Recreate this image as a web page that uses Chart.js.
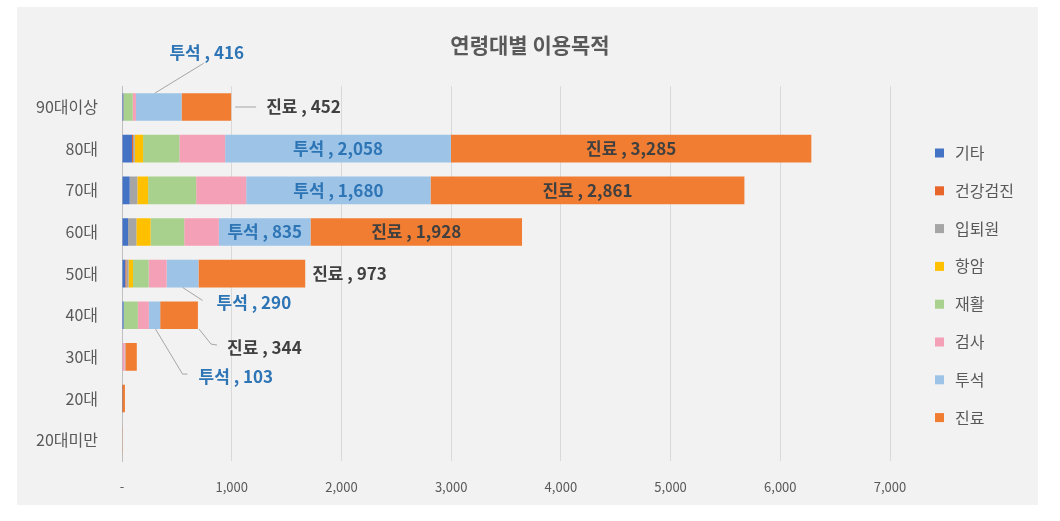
<!DOCTYPE html>
<html lang="ko">
<head>
<meta charset="utf-8">
<title>연령대별 이용목적</title>
<script src="https://cdn.jsdelivr.net/npm/chart.js@4.4.1/dist/chart.umd.min.js"></script>
<style>
  html, body { margin: 0; padding: 0; background: #ffffff; }
  canvas { display: block; }
</style>
</head>
<body>
<canvas id="myChart" width="1060" height="521"></canvas>
<script>
// categories (top to bottom)
const categories = ["90대이상", "80대", "70대", "60대", "50대", "40대", "30대", "20대", "20대미만"];

// series values, one array per purpose (stacked left to right in this order)
const etcValues = [10, 91, 70, 55, 30, 15, 5, 2, 0];           // 기타
const checkupValues = [0, 10, 0, 0, 10, 0, 0, 0, 0];           // 건강검진
const admissionValues = [8, 15, 70, 76, 20, 0, 0, 0, 0];       // 입퇴원
const cancerValues = [0, 76, 98, 130, 40, 0, 0, 0, 0];         // 항암
const rehabValues = [79, 331, 438, 306, 143, 130, 0, 0, 0];    // 재활
const examValues = [30, 417, 456, 316, 164, 100, 20, 0, 0];    // 검사
const dialysisValues = [416, 2058, 1680, 835, 290, 103, 5, 0, 0];     // 투석
const treatmentValues = [452, 3285, 2861, 1928, 973, 344, 105, 25, 3]; // 진료

// x axis tick labels
const xTickLabels = ["-", "1,000", "2,000", "3,000", "4,000", "5,000", "6,000", "7,000"];

document.addEventListener("DOMContentLoaded", function () {
  const ctx = document.getElementById("myChart").getContext("2d");

  const FONT = "'Noto Sans CJK KR', 'Noto Sans', sans-serif";
  Chart.defaults.font.family = FONT;
  Chart.defaults.color = "#595959";

  // series meta: name + colour, same order as the stack
  const series = [
    { label: "기타", data: etcValues, color: "#4472C4" },
    { label: "건강검진", data: checkupValues, color: "#E8652B" },
    { label: "입퇴원", data: admissionValues, color: "#A5A5A5" },
    { label: "항암", data: cancerValues, color: "#FFC000" },
    { label: "재활", data: rehabValues, color: "#A9D18E" },
    { label: "검사", data: examValues, color: "#F4A0B6" },
    { label: "투석", data: dialysisValues, color: "#9DC3E6" },
    { label: "진료", data: treatmentValues, color: "#F07D32" },
  ];

  const DIALYSIS = 6;
  const TREATMENT = 7;
  const blueText = "#2E75B6";
  const darkText = "#404040";

  // which bar segments get a value label and how it is placed
  const labelSpecs = [
    { ds: DIALYSIS, cat: 0, type: "callout", from: [-4, "top"], path: [[45, -30]], text: [48, -41], align: "center", color: blueText },
    { ds: TREATMENT, cat: 0, type: "right", line: true, color: darkText },
    { ds: DIALYSIS, cat: 1, type: "center", color: blueText },
    { ds: TREATMENT, cat: 1, type: "center", color: darkText },
    { ds: DIALYSIS, cat: 2, type: "center", color: blueText },
    { ds: TREATMENT, cat: 2, type: "center", color: darkText },
    { ds: DIALYSIS, cat: 3, type: "center", color: blueText },
    { ds: TREATMENT, cat: 3, type: "center", color: darkText },
    { ds: TREATMENT, cat: 4, type: "right", line: false, color: darkText },
    { ds: DIALYSIS, cat: 4, type: "callout", from: [0, "bottom"], path: [[20, 13]], text: [34, 15], align: "left", color: blueText },
    { ds: TREATMENT, cat: 5, type: "callout", from: [20, "bottom"], path: [[32, 15], [38, 16]], text: [48, 18], align: "left", color: darkText },
    { ds: DIALYSIS, cat: 5, type: "callout", from: [1, "bottom"], path: [[28, 45], [33, 45]], text: [44, 47], align: "left", color: blueText },
  ];

  // grey panel behind the whole chart
  const panelPlugin = {
    id: "panel",
    beforeDraw(chart) {
      const c = chart.ctx;
      c.save();
      c.fillStyle = "#F2F2F2";
      c.fillRect(17, 7, 1021, 498);
      c.restore();
    },
  };

  // value labels with leader lines, placed from the bar elements
  const barLabelPlugin = {
    id: "barLabels",
    afterDatasetsDraw(chart) {
      const c = chart.ctx;
      c.save();
      c.font = "bold 17px " + FONT;
      c.textBaseline = "middle";
      labelSpecs.forEach(function (spec) {
        const el = chart.getDatasetMeta(spec.ds).data[spec.cat];
        const value = chart.data.datasets[spec.ds].data[spec.cat];
        const text = series[spec.ds].label + " , " + value.toLocaleString("en-US");
        const start = Math.min(el.x, el.base);
        const end = Math.max(el.x, el.base);
        const cx = (start + end) / 2;
        const top = el.y - el.height / 2;
        const bottom = el.y + el.height / 2;
        c.fillStyle = spec.color;
        c.strokeStyle = "#A6A6A6";
        c.lineWidth = 1;

        if (spec.type === "center") {
          c.textAlign = "center";
          c.fillText(text, cx, el.y);
        } else if (spec.type === "right") {
          if (spec.line) {
            c.beginPath();
            c.moveTo(end + 4, el.y);
            c.lineTo(end + 25, el.y);
            c.stroke();
            c.textAlign = "left";
            c.fillText(text, end + 35, el.y);
          } else {
            c.textAlign = "left";
            c.fillText(text, end + 7, el.y);
          }
        } else {
          const y0 = spec.from[1] === "top" ? top : bottom;
          c.beginPath();
          c.moveTo(cx + spec.from[0], y0);
          spec.path.forEach(function (p) {
            c.lineTo(cx + p[0], y0 + p[1]);
          });
          c.stroke();
          c.textAlign = spec.align;
          c.fillText(text, cx + spec.text[0], y0 + spec.text[1]);
        }
      });
      c.restore();
    },
  };

  // vertical legend on the right
  const legendPlugin = {
    id: "sideLegend",
    afterDraw(chart) {
      const c = chart.ctx;
      c.save();
      c.font = "16px " + FONT;
      c.textBaseline = "middle";
      c.textAlign = "left";
      series.forEach(function (s, i) {
        const y = 153 + i * 37.8;
        c.fillStyle = s.color;
        c.fillRect(935, y - 4.5, 9, 9);
        c.fillStyle = "#595959";
        c.fillText(s.label, 955, y);
      });
      c.restore();
    },
  };

  const myChart = new Chart(ctx, {
    type: "bar",
    data: {
      labels: categories,
      datasets: series.map(function (s) {
        return {
          label: s.label,
          data: s.data,
          backgroundColor: s.color,
          borderWidth: 0,
          categoryPercentage: 0.8,
          barPercentage: 0.83,
        };
      }),
    },
    options: {
      indexAxis: "y",
      responsive: false,
      animation: false,
      layout: {
        padding: 0,
      },
      scales: {
        x: {
          stacked: true,
          min: 0,
          max: 7000,
          ticks: {
            stepSize: 1000,
            padding: 18,
            color: "#595959",
            font: { size: 13 },
            callback: function (value) {
              return xTickLabels[Math.round(value / 1000)];
            },
          },
          grid: { color: "#D9D9D9", drawTicks: false },
          border: { display: false },
          afterFit: function (scale) {
            // fixed axis height and room on the right for the legend
            scale.height = 60;
            scale.paddingRight = 170;
          },
        },
        y: {
          stacked: true,
          ticks: {
            padding: 24,
            color: "#595959",
            font: { size: 16 },
          },
          grid: { display: false, drawTicks: false },
          border: { display: true, color: "#BFBFBF" },
          afterFit: function (scale) {
            scale.width = 122;
          },
        },
      },
      plugins: {
        legend: { display: false },
        tooltip: { enabled: false },
        title: {
          display: true,
          text: "연령대별 이용목적",
          color: "#595959",
          font: { size: 21, weight: "bold" },
          padding: { top: 32, bottom: 29 },
        },
      },
    },
    plugins: [panelPlugin, barLabelPlugin, legendPlugin],
  });
});
</script>
</body>
</html>
